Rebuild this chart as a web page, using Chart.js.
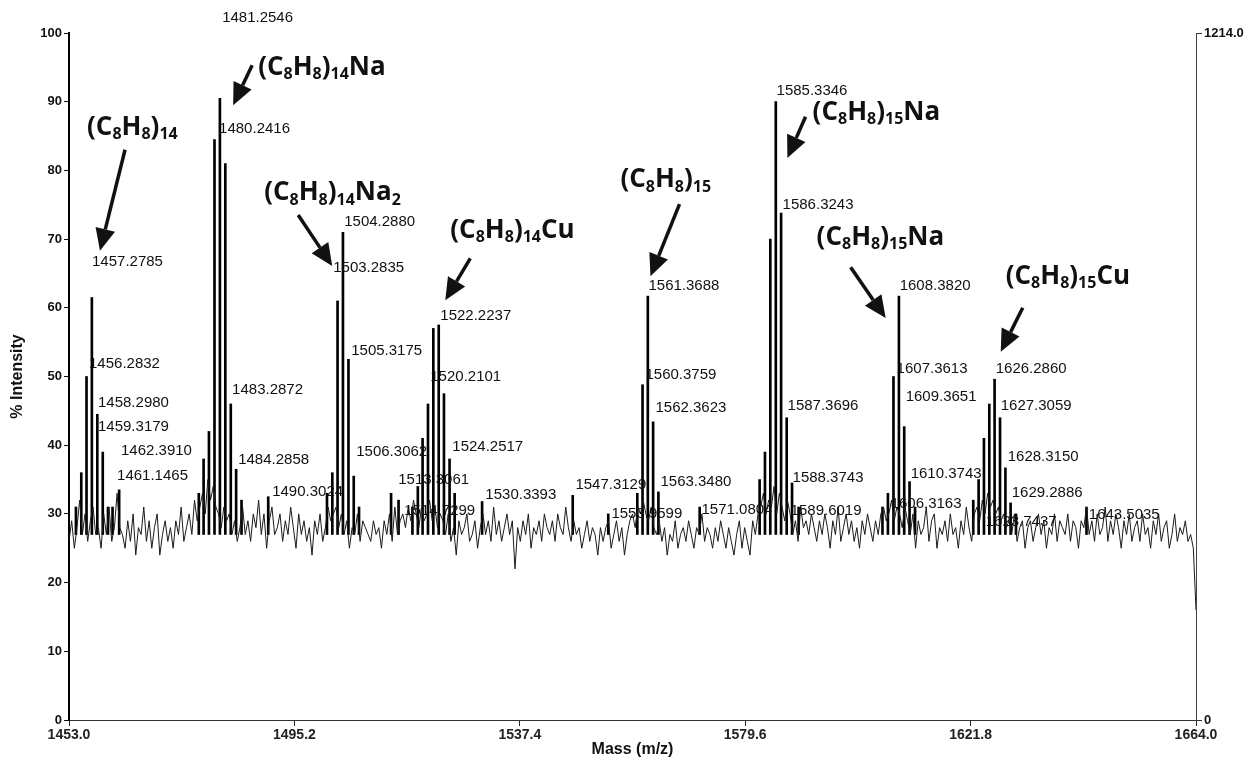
<!DOCTYPE html>
<html>
<head>
<meta charset="utf-8">
<script src="https://cdn.jsdelivr.net/npm/chart.js@4.4.1/dist/chart.umd.min.js"></script>
<style>
  html, body { margin: 0; padding: 0; background: #fff; }
</style>
</head>
<body>
<canvas id="myChart" width="1250" height="767"></canvas>
<script>
// x axis ticks (m/z)
var xTicks = [1453.0, 1495.2, 1537.4, 1579.6, 1621.8, 1664.0];

// resolved peaks: m/z and % intensity
var peakMz = [
  1454.3, 1455.3, 1456.28, 1457.28, 1458.30, 1459.32, 1460.3, 1461.15, 1462.39,
  1477.3, 1478.2, 1479.2, 1480.24, 1481.25, 1482.27, 1483.29, 1484.29, 1485.3,
  1490.30,
  1501.3, 1502.3, 1503.28, 1504.29, 1505.32, 1506.31, 1507.3,
  1513.3, 1514.7, 1517.3, 1518.31, 1519.2, 1520.21, 1521.21, 1522.22, 1523.2, 1524.25, 1525.2,
  1530.34, 1547.31, 1553.96,
  1559.4, 1560.38, 1561.37, 1562.36, 1563.35,
  1571.08,
  1582.3, 1583.3, 1584.3, 1585.33, 1586.32, 1587.37, 1588.37, 1589.6,
  1605.3, 1606.32, 1607.36, 1608.38, 1609.37, 1610.37, 1611.4,
  1622.3, 1623.3, 1624.3, 1625.3, 1626.29, 1627.31, 1628.32, 1629.29, 1630.3,
  1643.50
];
var peakPct = [
  31, 36, 50, 61.5, 44.5, 39, 31, 31, 33.5,
  33, 38, 42, 84.5, 90.5, 81, 46, 36.5, 32,
  32.5,
  33, 36, 61, 71, 52.5, 35.5, 31,
  33, 32, 31, 34, 41, 46, 57, 57.5, 47.5, 38, 33,
  31.8, 32.7, 30,
  33, 48.8, 61.7, 43.4, 33.2,
  31,
  35, 39, 70, 90, 73.8, 44, 34.5, 31,
  31, 33, 50, 61.7, 42.7, 34.7, 31,
  32, 35, 41, 46, 49.6, 44, 36.7, 31.6, 30,
  31
];
var peakBase = 27;

// baseline noise, one value every 0.5 m/z from 1453.0
var noiseStart = 1453.0;
var noiseStep = 0.5;
var noisePct = [
  26,29,25,28,32,27,30,26,29,31,27,28,25,30,27,31,26,28,33,28,
  27,25,29,26,30,24,28,27,31,26,29,25,28,30,24,27,29,26,28,25,
  29,27,31,26,28,30,27,32,29,31,33,30,35,32,34,31,30,28,31,29,
  30,27,29,26,28,31,27,29,26,30,28,32,27,30,25,29,31,27,28,30,
  26,29,27,31,28,25,30,27,29,26,28,24,29,27,30,26,28,31,29,30,
  31,28,30,27,29,25,28,27,30,26,29,28,27,26,29,27,28,25,29,27,
  30,26,31,27,29,30,28,31,29,32,30,28,31,29,30,32,29,31,28,30,
  29,27,30,26,28,24,29,27,28,30,26,27,29,25,28,30,27,29,26,31,
  27,29,26,28,30,27,29,22,28,26,29,27,30,25,28,27,29,26,30,28,
  27,29,26,30,28,27,31,28,26,29,27,28,25,27,29,26,28,27,24,28,
  26,28,29,25,27,29,26,28,24,27,29,30,28,31,30,32,30,29,31,28,
  27,29,26,28,24,27,26,29,25,27,28,26,29,27,25,28,27,30,26,28,
  27,25,28,26,29,27,25,28,26,24,27,29,25,28,26,24,29,27,30,31,
  33,30,32,31,34,30,33,31,29,32,30,27,29,26,31,28,29,27,30,28,
  26,29,27,30,28,25,29,27,31,26,28,30,27,29,26,28,25,29,27,30,
  28,26,29,27,30,31,29,30,32,29,31,30,28,31,29,27,30,25,29,27,
  28,31,26,29,30,25,28,27,29,26,30,27,28,25,29,27,31,28,26,30,
  31,29,32,30,33,31,32,30,31,29,30,28,29,27,30,26,28,29,25,28,
  29,26,28,30,27,29,25,28,27,30,26,29,28,27,30,26,29,28,25,29,
  28,31,27,29,26,30,27,28,31,26,29,27,30,28,25,29,27,30,26,28,
  29,26,30,27,28,25,29,27,30,26,28,29,25,27,30,26,28,27,29,26,
  27,25,16
];

// peak mass labels and where they sit (m/z of left edge, % level)
var labelText = [
  '1457.2785', '1456.2832', '1458.2980', '1459.3179', '1462.3910', '1461.1465',
  '1481.2546', '1480.2416', '1483.2872', '1484.2858', '1490.3024',
  '1504.2880', '1503.2835', '1505.3175', '1506.3062', '1513.3061', '1514.7299',
  '1522.2237', '1520.2101', '1524.2517', '1530.3393',
  '1547.3129', '1553.9599', '1561.3688', '1560.3759', '1562.3623', '1563.3480', '1571.0804',
  '1585.3346', '1586.3243', '1587.3696', '1588.3743', '1589.6019',
  '1608.3820', '1607.3613', '1609.3651', '1610.3743', '1606.3163',
  '1626.2860', '1627.3059', '1628.3150', '1629.2886', '1623.7437', '1643.5035'
];
var labelMz = [
  1457.31, 1456.75, 1458.43, 1458.43, 1462.74, 1462.0,
  1481.67, 1481.1, 1483.54, 1484.67, 1491.04,
  1504.53, 1502.47, 1505.84, 1506.78, 1514.64, 1515.77,
  1522.52, 1520.64, 1524.76, 1530.95,
  1547.81, 1554.55, 1561.49, 1560.93, 1562.80, 1563.74, 1571.42,
  1585.47, 1586.6, 1587.53, 1588.47, 1588.1,
  1608.52, 1607.95, 1609.64, 1610.58, 1606.83,
  1626.5, 1627.44, 1628.75, 1629.5, 1624.63, 1643.93
];
var labelPct = [
  66.7, 51.8, 46.1, 42.6, 39.2, 35.5,
  102.2, 86.0, 48.0, 37.8, 33.2,
  72.5, 65.8, 53.7, 39.0, 34.9, 30.4,
  58.8, 49.9, 39.7, 32.8,
  34.2, 30.0, 63.2, 50.2, 45.4, 34.6, 30.6,
  91.6, 75.0, 45.7, 35.2, 30.4,
  63.2, 51.1, 47.0, 35.8, 31.4,
  51.1, 45.7, 38.3, 33.0, 28.8, 29.8
];

// species assignments with arrows
var formulaText = ['(C8H8)14', '(C8H8)14Na', '(C8H8)14Na2', '(C8H8)14Cu',
                   '(C8H8)15', '(C8H8)15Na', '(C8H8)15Na', '(C8H8)15Cu'];
var formulaMz  = [1456.37, 1488.41, 1489.54, 1524.39, 1556.24, 1592.22, 1592.97, 1628.38];
var formulaPct = [86.3, 95.0, 76.7, 71.3, 78.6, 88.4, 70.2, 64.5];
var arrowFromMz  = [1463.49, 1487.29, 1495.91, 1528.13, 1567.30, 1590.9, 1599.34, 1631.56];
var arrowFromPct = [83.0, 95.3, 73.5, 67.2, 75.1, 87.8, 65.9, 60.0];
var arrowToMz    = [1458.8, 1483.73, 1502.28, 1523.45, 1561.86, 1587.5, 1605.90, 1627.44];
var arrowToPct   = [68.3, 89.5, 66.1, 61.1, 64.6, 81.8, 58.5, 53.6];

var axisFont = '"Liberation Sans", Arial, sans-serif';

function drawFormula(ctx, text, x, y) {
  var parts = text.match(/\d+|\D+/g);
  for (var i = 0; i < parts.length; i++) {
    var sub = /^\d/.test(parts[i]);
    ctx.font = sub ? 'bold 16px "Open Sans"' : 'bold 26px "Open Sans"';
    ctx.fillText(parts[i], x, sub ? y + 7 : y);
    x += ctx.measureText(parts[i]).width;
  }
}

function drawArrow(ctx, x1, y1, x2, y2) {
  var ang = Math.atan2(y2 - y1, x2 - x1);
  var headLen = 22, headW = 10;
  var bx = x2 - headLen * Math.cos(ang), by = y2 - headLen * Math.sin(ang);
  ctx.beginPath();
  ctx.moveTo(x1, y1);
  ctx.lineTo(bx, by);
  ctx.lineWidth = 3.5;
  ctx.stroke();
  ctx.beginPath();
  ctx.moveTo(x2, y2);
  ctx.lineTo(bx + headW * Math.sin(ang), by - headW * Math.cos(ang));
  ctx.lineTo(bx - headW * Math.sin(ang), by + headW * Math.cos(ang));
  ctx.closePath();
  ctx.fill();
}

var textPlugin = {
  id: 'peakText',
  afterDatasetsDraw: function(chart) {
    var ctx = chart.ctx, xs = chart.scales.x, ys = chart.scales.y;
    ctx.save();
    ctx.fillStyle = '#111';
    ctx.strokeStyle = '#111';
    ctx.textAlign = 'left';
    ctx.textBaseline = 'middle';
    ctx.font = '15px ' + axisFont;
    for (var i = 0; i < labelText.length; i++) {
      ctx.fillText(labelText[i], xs.getPixelForValue(labelMz[i]), ys.getPixelForValue(labelPct[i]));
    }
    for (var j = 0; j < formulaText.length; j++) {
      drawFormula(ctx, formulaText[j], xs.getPixelForValue(formulaMz[j]), ys.getPixelForValue(formulaPct[j]));
      drawArrow(ctx,
        xs.getPixelForValue(arrowFromMz[j]), ys.getPixelForValue(arrowFromPct[j]),
        xs.getPixelForValue(arrowToMz[j]), ys.getPixelForValue(arrowToPct[j]));
    }
    ctx.restore();
  }
};

var noiseData = noisePct.map(function(v, i) {
  return { x: noiseStart + i * noiseStep, y: v };
});
var peakData = peakMz.map(function(m, i) {
  return { x: m, y: [peakBase, peakPct[i]] };
});

var ctx = document.getElementById('myChart');
var myChart = new Chart(ctx, {
  type: 'bar',
  data: {
    datasets: [{
      type: 'line',
      data: noiseData,
      borderColor: '#1a1a1a',
      borderWidth: 1,
      pointRadius: 0,
      tension: 0
    }, {
      type: 'bar',
      data: peakData,
      backgroundColor: '#000',
      barThickness: 2,
      grouped: false
    }]
  },
  options: {
    responsive: false,
    animation: false,
    devicePixelRatio: 1,
    layout: { padding: { top: 33, left: 0, right: 0, bottom: 0 } },
    plugins: {
      legend: { display: false },
      tooltip: { enabled: false }
    },
    scales: {
      x: {
        type: 'linear',
        offset: false,
        min: 1453.0,
        max: 1664.0,
        afterBuildTicks: function(s) { s.ticks = xTicks.map(function(v) { return { value: v }; }); },
        afterFit: function(s) { s.height = 47; },
        ticks: {
          autoSkip: false,
          maxRotation: 0,
          padding: 1,
          color: '#222',
          font: { family: axisFont, size: 14, weight: 'bold' },
          callback: function(v) { return Number(v).toFixed(1); }
        },
        grid: { offset: false, drawOnChartArea: false, tickLength: 6, color: '#222' },
        border: { color: '#333', width: 1 },
        title: {
          display: true,
          text: 'Mass (m/z)',
          color: '#111',
          font: { family: axisFont, size: 16, weight: 'bold' },
          padding: { top: 0, bottom: 8 }
        }
      },
      y: {
        min: 0,
        max: 100,
        afterFit: function(s) { s.width = 69; },
        ticks: {
          stepSize: 10,
          padding: 2,
          color: '#111',
          font: { family: axisFont, size: 13, weight: 'bold' }
        },
        grid: { drawOnChartArea: false, tickLength: 5, color: '#111' },
        border: { color: '#000', width: 2 },
        title: {
          display: true,
          text: '% Intensity',
          color: '#111',
          font: { family: axisFont, size: 16, weight: 'bold' },
          padding: { top: 8, bottom: 0 }
        }
      },
      y2: {
        position: 'right',
        min: 0,
        max: 1214,
        afterBuildTicks: function(s) { s.ticks = [{ value: 0 }, { value: 1214 }]; },
        afterFit: function(s) { s.width = 54; },
        ticks: {
          padding: 2,
          color: '#111',
          font: { family: axisFont, size: 13, weight: 'bold' },
          callback: function(v) { return v === 0 ? '0' : Number(v).toFixed(1); }
        },
        grid: { drawOnChartArea: false, tickLength: 6, color: '#333' },
        border: { color: '#444', width: 1 }
      }
    }
  },
  plugins: [textPlugin]
});
</script>
</body>
</html>
